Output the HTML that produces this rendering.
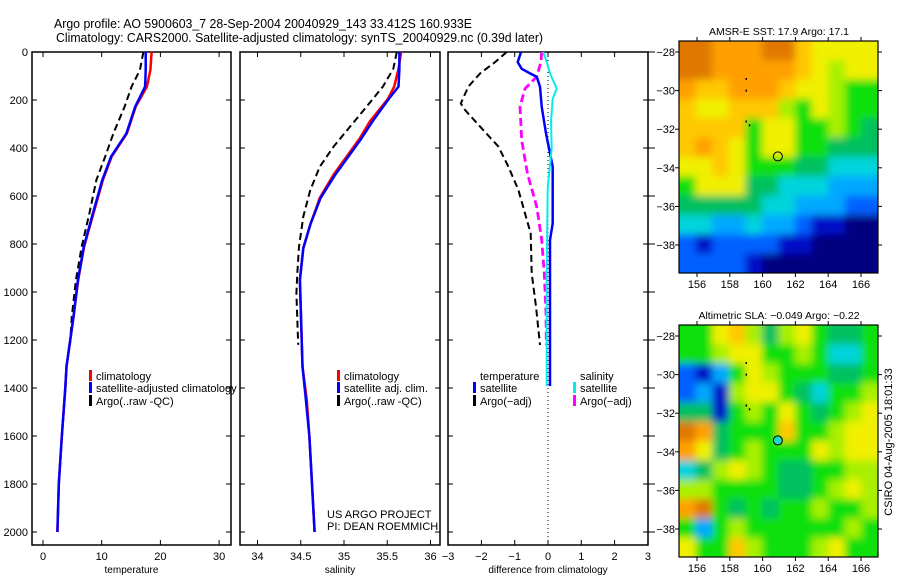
<!DOCTYPE html>
<html><head><meta charset="utf-8"><style>
body{margin:0;background:#fff;}
svg{display:block;font-family:"Liberation Sans",sans-serif;}
text{font-size:11px;fill:#000;}
</style></head><body>
<svg id="chart" width="900" height="580" viewBox="0 0 900 580" xmlns="http://www.w3.org/2000/svg">
<defs><filter id="blur" x="-10%" y="-10%" width="120%" height="120%"><feGaussianBlur stdDeviation="4"/></filter></defs>
<rect width="900" height="580" fill="#fff"/>
<text x="54" y="28" style="font-size:13px" textLength="418" lengthAdjust="spacingAndGlyphs">Argo profile: AO 5900603_7 28-Sep-2004 20040929_143 33.412S 160.933E</text>
<text x="56" y="42" style="font-size:13px" textLength="487" lengthAdjust="spacingAndGlyphs">Climatology: CARS2000. Satellite-adjusted climatology: synTS_20040929.nc (0.39d later)</text>
<g id="plots"></g>
</svg>
<script>
// ---- data ----
const tempClimDepth=[0,75,144,228,339,436,533,672,811,950,1103,1311,1400,1603,1800,2000];
const tempClimVal=[18.5,18.3,17.7,15.8,14.3,11.7,10.2,8.6,7.0,6.0,5.2,4.0,3.8,3.2,2.7,2.45];
const tempSatDepth=[0,75,144,228,339,436,533,672,811,950,1103,1311,1400,1603,1800,2000];
const tempSatVal=[17.5,17.5,17.4,15.7,14.2,11.6,10.1,8.5,6.95,5.95,5.2,4.0,3.8,3.2,2.7,2.45];
const tempArgoDepth=[0,75,144,228,339,436,533,672,811,950,1103,1220];
const tempArgoVal=[17.1,16.5,15.1,13.9,12.0,10.6,9.1,7.9,6.6,5.6,4.9,4.6];

const salClimDepth=[0,70,144,194,289,361,436,511,608,719,817,950,1311,1450,1603,1800,2000];
const salClimVal=[35.66,35.63,35.58,35.51,35.30,35.18,35.03,34.88,34.72,34.61,34.53,34.49,34.52,34.57,34.60,34.63,34.66];
const salSatDepth=[0,70,144,194,289,361,436,511,608,719,817,950,1311,1450,1603,1800,2000];
const salSatVal=[35.64,35.64,35.63,35.52,35.33,35.20,35.05,34.90,34.73,34.61,34.53,34.49,34.52,34.56,34.60,34.63,34.66];
const salArgoDepth=[0,70,144,228,311,394,478,575,686,811,922,1006,1220];
const salArgoVal=[35.61,35.57,35.45,35.26,35.07,34.88,34.72,34.61,34.53,34.48,34.46,34.45,34.47];

const dTsatDepth=[0,42,70,89,103,144,228,339,478,714,783,1392];
const dTsatVal=[-0.81,-0.91,-0.79,-0.54,-0.34,-0.24,-0.19,-0.06,0.14,0.14,0.06,0.06];
const dTargoDepth=[0,42,89,144,214,242,311,394,478,575,672,756,922,1061,1221];
const dTargoVal=[-1.24,-1.59,-2.04,-2.39,-2.62,-2.49,-2.04,-1.49,-1.19,-0.89,-0.69,-0.52,-0.49,-0.36,-0.24];
const dSsatDepth=[0,33,89,153,194,289,400,567,922,1392];
const dSsatVal=[-0.14,-0.06,0.06,0.26,0.14,0.09,0.11,-0.01,-0.04,-0.04];
const dSargoDepth=[0,40,103,153,228,367,506,644,783,922,1089,1220];
const dSargoVal=[-0.19,-0.21,-0.34,-0.69,-0.84,-0.79,-0.62,-0.34,-0.19,-0.11,-0.06,-0.05];

const depthTicks=[0,200,400,600,800,1000,1200,1400,1600,1800,2000];
const tempTicks=[0,10,20,30];
const salTicks=[34,34.5,35,35.5,36];
const diffTicks=[-3,-2,-1,0,1,2,3];
const latTicks=[-28,-30,-32,-34,-36,-38];
const lonTicks=[156,158,160,162,164,166];

const sstGrid=["BBAAABB98888","BBAAAAA98788","A99AAA988766","988999768766","999968866765","9A9868866555","889866655444","688855444333","555554433322","443343321100","212222110000","222210000000"];
const slaGrid=["668975786556","667886676446","213687666556","231788654667","551676865678","BA5666966788","A85676668788","457876556677","776666556787","AB6565667667","636766666676","866976667866"];

// ---- scales ----
const NS="http://www.w3.org/2000/svg";
const root=document.getElementById('plots');
function el(tag,attrs,parent){const e=document.createElementNS(NS,tag);for(const k in attrs)e.setAttribute(k,attrs[k]);(parent||root).appendChild(e);return e;}
const yD=d=>52+d*0.24;
const xT=v=>43+v*5.87;
const xS=v=>257.5+(v-34)*86.5;
const xDf=v=>548+v*33.3;
const TOP=52,BOT=545;

function panel(name,x0,x1,xf,ticks,label,labelTxt){
  const g=el('g',{});
  
  
  const cp=el('clipPath',{id:'clip-'+name},g);
  el('rect',{x:x0,y:TOP,width:x1-x0,height:BOT-TOP},cp);
  el('rect',{x:x0,y:TOP,width:x1-x0,height:BOT-TOP,fill:'none',stroke:'#000','stroke-width':1.5},g);
  depthTicks.forEach(d=>{el('line',{x1:x0,x2:x0+5,y1:yD(d),y2:yD(d),stroke:'#000'},g);el('line',{x1:x1-5,x2:x1,y1:yD(d),y2:yD(d),stroke:'#000'},g);});
  ticks.forEach((t,i)=>{const x=xf(t);
    el('line',{x1:x,x2:x,y1:BOT-5,y2:BOT,stroke:'#000'},g);
    el('line',{x1:x,x2:x,y1:TOP,y2:TOP+5,stroke:'#000'},g);
    const tx=el('text',{x:x,y:560,'text-anchor':'middle'},g);tx.textContent=label[i];
  });
  const xt=el('text',{x:(x0+x1)/2,y:573,'text-anchor':'middle'},g);
  
  
  xt.style.fontSize='10px';
  xt.textContent=labelTxt;
  const inner=el('g',{'clip-path':'url(#clip-'+name+')'},g);
  return inner;
}
function series(g,name,depths,vals,xf,color,w,dash){
  const pts=depths.map((d,i)=>xf(vals[i]).toFixed(1)+','+yD(d).toFixed(1)).join(' ');
  const p=el('polyline',{points:pts,fill:'none',stroke:color,'stroke-width':w,'stroke-linejoin':'round'},g);
  if(dash)p.setAttribute('stroke-dasharray',dash);
  
  
}
function legend(g,x,y,color,txt,name){
  if(color){el('rect',{x:x,y:y-10,width:3,height:11,fill:color},root);}
  const t=el('text',{x:x+7,y:y},root);
  
  
  t.textContent=txt;
}

depthTicks.forEach(d=>{const t=el('text',{x:28,y:yD(d)+4,'text-anchor':'end'});t.textContent=d;});

const p1=panel('temperature-panel',32,231,xT,tempTicks,tempTicks.map(String),'temperature');
series(p1,'temp-argo-line',tempArgoDepth,tempArgoVal,xT,'#000',2,'7,4');
series(p1,'temp-climatology-line',tempClimDepth,tempClimVal,xT,'#f00',2.5);
series(p1,'temp-satellite-line',tempSatDepth,tempSatVal,xT,'#00f',2.5);
legend(root,89,380,'#f00','climatology','legend-climatology');
legend(root,89,392,'#00f','satellite-adjusted climatology','legend-satellite-adjusted');
legend(root,89,405,'#000','Argo(..raw -QC)','legend-argo-raw');

const p2=panel('salinity-panel',240,440,xS,salTicks,['34','34.5','35','35.5','36'],'salinity');
series(p2,'sal-argo-line',salArgoDepth,salArgoVal,xS,'#000',2,'7,4');
series(p2,'sal-climatology-line',salClimDepth,salClimVal,xS,'#f00',2.5);
series(p2,'sal-satellite-line',salSatDepth,salSatVal,xS,'#00f',2.5);
legend(root,337,380,'#f00','climatology','legend2-climatology');
legend(root,337,392,'#00f','satellite adj. clim.','legend2-satellite');
legend(root,337,405,'#000','Argo(..raw -QC)','legend2-argo');
let t=el('text',{x:327,y:518});t.textContent='US ARGO PROJECT';
t=el('text',{x:327,y:530});t.textContent='PI: DEAN ROEMMICH';

const p3=panel('difference-panel',448,648,xDf,diffTicks,diffTicks.map(v=>v<0?'\u2212'+(-v):String(v)),'difference from climatology');
el('line',{x1:xDf(0),x2:xDf(0),y1:TOP,y2:BOT,stroke:'#000','stroke-width':1,'stroke-dasharray':'1,3'},p3);
series(p3,'diff-temp-argo-line',dTargoDepth,dTargoVal,xDf,'#000',2,'7,4');
series(p3,'diff-sal-argo-line',dSargoDepth,dSargoVal,xDf,'#f0f',2.8,'8,4');
series(p3,'diff-temp-satellite-line',dTsatDepth,dTsatVal,xDf,'#00f',2.5);
series(p3,'diff-sal-satellite-line',dSsatDepth,dSsatVal,xDf,'#0ee',2);
depthTicks.forEach(d=>el('line',{x1:648,x2:655,y1:yD(d),y2:yD(d),stroke:'#000'}));
legend(root,473,380,null,'temperature','legend3-temperature');
legend(root,473,392,'#00f','satellite','legend3-temp-satellite');
legend(root,473,405,'#000','Argo(\u2212adj)','legend3-temp-argo');
legend(root,573,380,null,'salinity','legend3-salinity');
legend(root,573,392,'#0ee','satellite','legend3-sal-satellite');
legend(root,573,405,'#f0f','Argo(\u2212adj)','legend3-sal-argo');

// ---- maps ----
const pal={'0':'#00007f','1':'#0010c8','2':'#0060ff','3':'#00a8ff','4':'#00d4dc','5':'#00c060','6':'#10e010','7':'#a8f000','8':'#f0f000','9':'#ffc800','A':'#ffa000','B':'#e07800','C':'#c04000'};
function map(name,top,grid,title,circleFill){
  const g=el('g',{});
  
  
  const L=679,R=878,B=top+232;
  const lat2y=la=>top+11+(-28-la)*19.3;
  const lon2x=lo=>697+(lo-156)*16.4;
  const cw=(R-L)/12,ch=(B-top)/12,E=14;
  const cp=el('clipPath',{id:'clip-'+name},g);
  el('rect',{x:L,y:top,width:R-L,height:B-top},cp);
  const cg=el('g',{'clip-path':'url(#clip-'+name+')'},g);
  const bg=el('g',{filter:'url(#blur)'},cg);
  grid.forEach((row,r)=>{[...row].forEach((c,k)=>{
    const x=L+k*cw-(k==0?E:0), w=cw+0.5+(k==0||k==11?E:0);
    const y=top+r*ch-(r==0?E:0), h=ch+0.5+(r==0||r==11?E:0);
    el('rect',{x:x,y:y,width:w,height:h,fill:pal[c]},bg);
  });});
  el('rect',{x:L,y:top,width:R-L,height:B-top,fill:'none',stroke:'#000','stroke-width':1.2},g);
  latTicks.forEach(la=>{const y=lat2y(la);
    el('line',{x1:L-4,x2:L,y1:y,y2:y,stroke:'#000'},g);el('line',{x1:R,x2:R+4,y1:y,y2:y,stroke:'#000'},g);
    const tx=el('text',{x:L-4,y:y+4,'text-anchor':'end'},g);tx.textContent='\u2212'+(-la);});
  lonTicks.forEach(lo=>{const x=lon2x(lo);
    el('line',{x1:x,x2:x,y1:B,y2:B+4,stroke:'#000'},g);el('line',{x1:x,x2:x,y1:top-4,y2:top,stroke:'#000'},g);
    const tx=el('text',{x:x,y:B+15,'text-anchor':'middle'},g);tx.textContent=lo;});
  const tt=el('text',{x:779,y:top-6,'text-anchor':'middle'},g);
  
  
  tt.style.fontSize='10.5px';
  tt.textContent=title;
  [[159,-29.4],[159,-30],[159,-31.6],[159.2,-31.8]].forEach(p=>el('rect',{x:lon2x(p[0])-0.7,y:lat2y(p[1])-1,width:1.5,height:2,fill:'#000'},g));
  el('circle',{cx:lon2x(160.93),cy:lat2y(-33.41),r:4.5,fill:circleFill,stroke:'#000','stroke-width':1},g);
}
map('sst-map',41,sstGrid,'AMSR-E SST: 17.9 Argo: 17.1','none');
map('sla-map',325,slaGrid,'Altimetric SLA: \u22120.049 Argo: \u22120.22','#20d8c8');
t=el('text',{x:0,y:0,transform:'translate(892,442) rotate(-90)','text-anchor':'middle'});


t.textContent='CSIRO 04-Aug-2005 18:01:33';
</script>
</body></html>
